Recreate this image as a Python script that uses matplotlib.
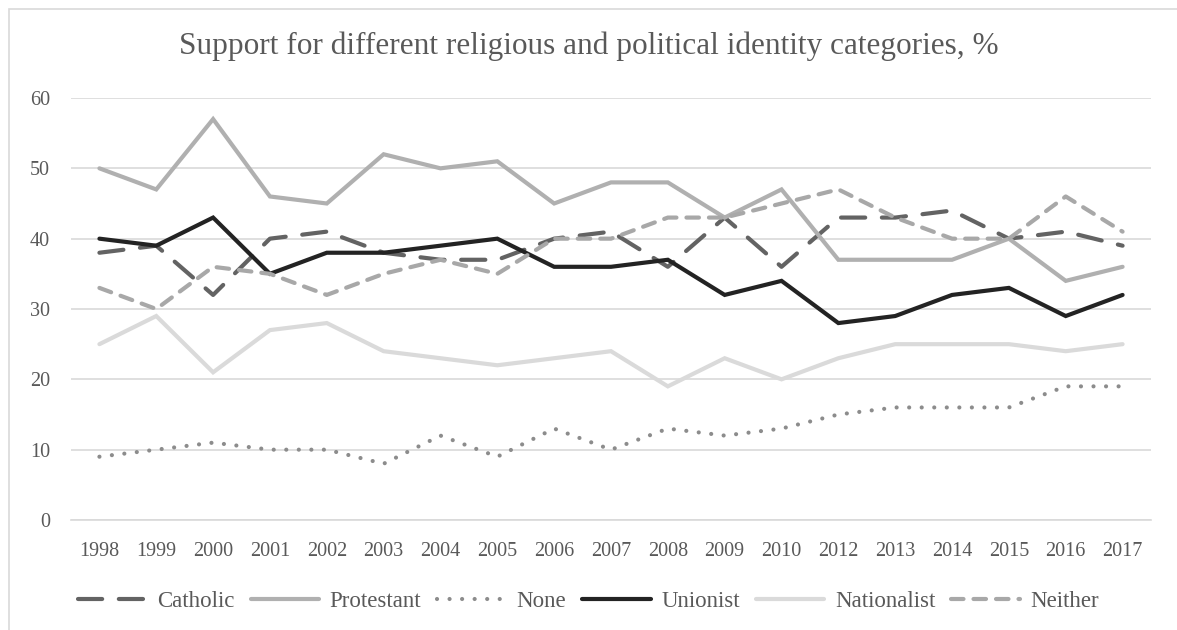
#!/usr/bin/env python3
"""
宗教・政治的アイデンティティ別の支持率推移を折れ線グラフで描画
"""

import matplotlib
matplotlib.use('Agg')
import matplotlib.pyplot as plt
from matplotlib.patches import Rectangle

plt.rcParams['font.family'] = ['Liberation Serif', 'DejaVu Serif']

# 調査年（2011年は欠測）
years = ['1998', '1999', '2000', '2001', '2002', '2003', '2004', '2005', '2006',
         '2007', '2008', '2009', '2010', '2012', '2013', '2014', '2015', '2016', '2017']

catholic = [38, 39, 32, 40, 41, 38, 37, 37, 40, 41, 36, 43, 36, 43, 43, 44, 40, 41, 39]
protestant = [50, 47, 57, 46, 45, 52, 50, 51, 45, 48, 48, 43, 47, 37, 37, 37, 40, 34, 36]
none = [9, 10, 11, 10, 10, 8, 12, 9, 13, 10, 13, 12, 13, 15, 16, 16, 16, 19, 19]
unionist = [40, 39, 43, 35, 38, 38, 39, 40, 36, 36, 37, 32, 34, 28, 29, 32, 33, 29, 32]
nationalist = [25, 29, 21, 27, 28, 24, 23, 22, 23, 24, 19, 23, 20, 23, 25, 25, 25, 24, 25]
neither = [33, 30, 36, 35, 32, 35, 37, 35, 40, 40, 43, 43, 45, 47, 43, 40, 40, 46, 41]

y_ticks = [0, 10, 20, 30, 40, 50, 60]

# 系列ごとのスタイル
series = [
    ('Catholic', catholic, '#636363', (0, (5.8, 4.0))),
    ('Protestant', protestant, '#b0b0b0', '-'),
    ('None', none, '#8c8c8c', (0, (0.01, 3.0))),
    ('Unionist', unionist, '#232323', '-'),
    ('Nationalist', nationalist, '#dadada', '-'),
    ('Neither', neither, '#a8a8a8', (0, (3.0, 2.4))),
]

fig = plt.figure(figsize=(11.77, 6.3), dpi=100)
ax = fig.add_axes([71 / 1177, 1 - 520 / 630, (1151 - 71) / 1177, (520 - 98) / 630])

x = list(range(len(years)))
for label, values, color, ls in series:
    ax.plot(x, values, color=color, linestyle=ls, linewidth=3.0,
            solid_capstyle='round', dash_capstyle='round',
            solid_joinstyle='miter', label=label)

ax.set_xlim(-0.5, len(years) - 0.5)
ax.set_ylim(0, 60)
ax.set_xticks(x)
ax.set_xticklabels(years)
ax.set_yticks(y_ticks)
ax.tick_params(axis='both', length=0, labelsize=14.5, colors='#595959')
ax.tick_params(axis='x', pad=16)
ax.tick_params(axis='y', pad=15)
ax.yaxis.grid(True, color='#d9d9d9', linewidth=1.2)
ax.set_axisbelow(True)
for side in ['top', 'right', 'left']:
    ax.spines[side].set_visible(False)
ax.spines['bottom'].set_color('#d9d9d9')
ax.spines['bottom'].set_linewidth(1.2)

fig.text(0.5, 1 - 46 / 630, 'Support for different religious and political identity categories, %',
         ha='center', va='center', fontsize=22.5, color='#595959')

leg = fig.legend(loc='center', bbox_to_anchor=(0.5, 1 - 601 / 630), ncol=6, frameon=False,
                 fontsize=16.5, handlelength=3.0, columnspacing=0.7, handletextpad=0.45)
for t in leg.get_texts():
    t.set_color('#595959')

# グラフ全体の枠線
fig.patches.append(Rectangle((9 / 1177, -0.05), 1.1, 1 - 9 / 630 + 0.05,
                             transform=fig.transFigure, fill=False,
                             edgecolor='#d9d9d9', linewidth=1.2))

fig.savefig('out.png', dpi=100)
